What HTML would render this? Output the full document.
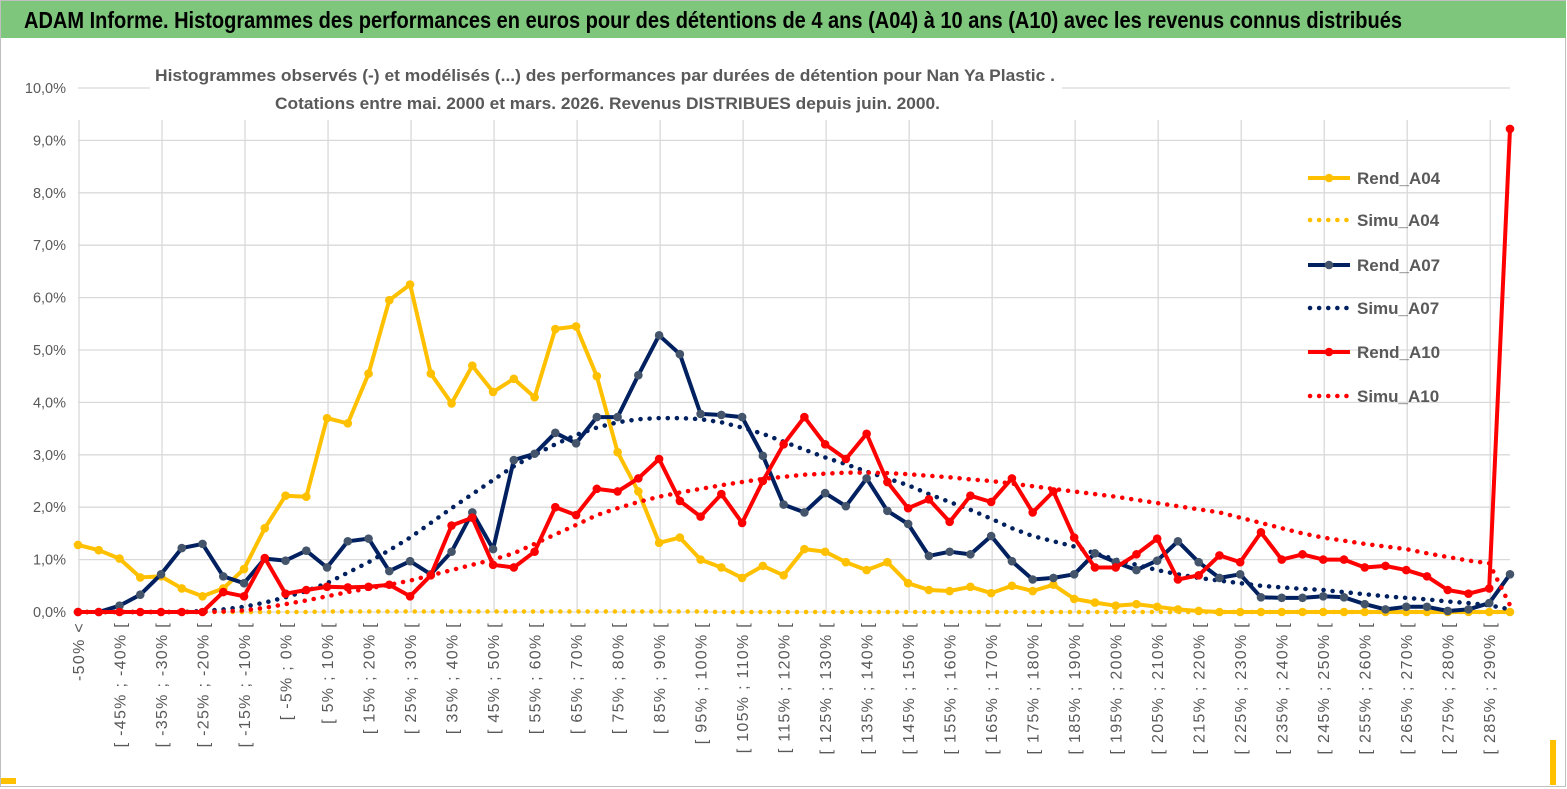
<!DOCTYPE html>
<html><head><meta charset="utf-8"><style>
html,body{margin:0;padding:0;background:#fff;}
svg{display:block;font-family:"Liberation Sans",sans-serif;}
</style></head><body>
<svg id="chart" width="1567" height="789" viewBox="0 0 1567 789" xmlns="http://www.w3.org/2000/svg">
<rect x="0" y="0" width="1567" height="789" fill="#fff"/>
<rect x="0.5" y="0.5" width="1565" height="786" fill="none" stroke="#bfbfbf"/>
<rect x="1" y="1" width="1565" height="37" fill="#7DC67B"/>
<text x="24" y="28" font-size="23" font-weight="bold" fill="#000" textLength="1378" lengthAdjust="spacingAndGlyphs">ADAM Informe. Histogrammes des performances en euros pour des détentions de 4 ans (A04) à 10 ans (A10) avec les revenus connus distribués</text>
<g id="grid"></g>
<g id="yticks"></g>
<g id="xticks"></g>
<rect x="150" y="55" width="912" height="64" fill="#fff"/>
<text x="155" y="81" font-size="17" font-weight="bold" fill="#595959" textLength="900" lengthAdjust="spacingAndGlyphs">Histogrammes observés (-) et modélisés (...) des performances par durées de détention pour Nan Ya Plastic .</text>
<text x="275" y="109" font-size="17" font-weight="bold" fill="#595959" textLength="665" lengthAdjust="spacingAndGlyphs">Cotations entre mai. 2000 et mars. 2026. Revenus DISTRIBUES depuis juin. 2000.</text>
<g id="series"></g>
<g id="legend"></g>
<rect x="1" y="778" width="15" height="6" fill="#FFC000"/>
<rect x="1550" y="740" width="6" height="45" fill="#FFC000"/>
</svg>
<script>
const yTicks=["0,0%","1,0%","2,0%","3,0%","4,0%","5,0%","6,0%","7,0%","8,0%","9,0%","10,0%"];
const yTickValues=[0,1,2,3,4,5,6,7,8,9,10];
const categories=["-50% <"];
for(let k=1;k<70;k++){const lo=-50+5*(k-1);categories.push("[ "+lo+"% ; "+(lo+5)+"% [");}
const rendA04=[1.28,1.18,1.02,0.66,0.68,0.45,0.3,0.45,0.82,1.6,2.22,2.2,3.7,3.6,4.55,5.95,6.25,4.55,3.98,4.7,4.2,4.45,4.1,5.4,5.45,4.5,3.05,2.3,1.32,1.42,1.0,0.85,0.65,0.88,0.7,1.2,1.15,0.95,0.8,0.95,0.55,0.42,0.4,0.48,0.36,0.5,0.4,0.52,0.25,0.18,0.12,0.15,0.1,0.05,0.02,0,0,0,0,0,0,0,0,0,0,0,0,0,0,0];
const simuA04=[0,0,0,0,0,0,0,0,0,0,0,0,0.01,0.01,0.01,0.01,0.01,0.01,0.01,0.01,0.01,0.01,0.01,0.01,0.01,0.01,0.01,0.01,0.01,0.01,0.01,0,0,0,0,0,0,0,0,0,0,0,0,0,0,0,0,0,0,0,0,0,0,0,0,0,0,0,0,0,0,0,0,0,0,0,0,0,0,0];
const rendA07=[0,0,0.12,0.33,0.72,1.22,1.3,0.68,0.55,1.02,0.98,1.17,0.85,1.35,1.4,0.78,0.97,0.72,1.15,1.9,1.2,2.9,3.02,3.42,3.22,3.72,3.72,4.52,5.28,4.92,3.78,3.76,3.72,2.98,2.05,1.9,2.27,2.02,2.55,1.93,1.68,1.07,1.15,1.1,1.45,0.97,0.62,0.65,0.72,1.12,0.95,0.8,0.98,1.35,0.95,0.65,0.72,0.28,0.27,0.27,0.3,0.28,0.15,0.05,0.1,0.1,0.02,0.05,0.17,0.72];
const simuA07=[0,0,0,0,0,0,0.02,0.05,0.1,0.18,0.28,0.4,0.55,0.75,0.95,1.18,1.42,1.7,1.98,2.25,2.52,2.78,3.0,3.2,3.38,3.52,3.62,3.68,3.7,3.7,3.68,3.62,3.52,3.4,3.25,3.1,2.95,2.82,2.68,2.55,2.42,2.25,2.1,1.95,1.78,1.6,1.45,1.35,1.25,1.12,1.0,0.9,0.8,0.72,0.65,0.6,0.55,0.5,0.47,0.44,0.42,0.38,0.34,0.3,0.27,0.24,0.2,0.17,0.13,0.05];
const rendA10=[0,0,0,0,0,0,0,0.38,0.3,1.03,0.35,0.42,0.48,0.47,0.48,0.52,0.3,0.7,1.65,1.8,0.9,0.85,1.15,2.0,1.85,2.35,2.3,2.55,2.92,2.12,1.82,2.25,1.7,2.5,3.2,3.72,3.2,2.92,3.4,2.48,1.98,2.15,1.72,2.22,2.1,2.55,1.9,2.3,1.42,0.85,0.85,1.1,1.4,0.62,0.7,1.08,0.95,1.52,1.0,1.1,1.0,1.0,0.85,0.88,0.8,0.68,0.42,0.35,0.45,9.22];
const simuA10=[0,0,0,0,0,0,0,0.01,0.03,0.08,0.15,0.22,0.3,0.38,0.45,0.52,0.6,0.7,0.8,0.9,1.0,1.12,1.3,1.48,1.66,1.85,1.98,2.1,2.2,2.28,2.35,2.42,2.48,2.54,2.58,2.62,2.64,2.66,2.66,2.65,2.63,2.6,2.57,2.53,2.5,2.45,2.4,2.35,2.3,2.25,2.2,2.14,2.08,2.02,1.96,1.9,1.8,1.7,1.6,1.5,1.42,1.36,1.3,1.25,1.2,1.12,1.05,0.98,0.93,0.13];
const seriesNames=["Rend_A04","Simu_A04","Rend_A07","Simu_A07","Rend_A10","Simu_A10"];

const NS="http://www.w3.org/2000/svg";
const X0=78,X1=1510,Y0=612,Y10=88,N=categories.length;
function xs(i){return X0+i*(X1-X0)/(N-1);}
function ys(v){return Y0-(v/10)*(Y0-Y10);}
function mk(tag,attrs,parent){const e=document.createElementNS(NS,tag);for(const k in attrs)e.setAttribute(k,attrs[k]);parent.appendChild(e);return e;}
const grid=document.getElementById('grid'),yt=document.getElementById('yticks'),xt=document.getElementById('xticks'),ser=document.getElementById('series'),leg=document.getElementById('legend');
yTickValues.forEach((v,i)=>{
  const l=mk('line',{x1:X0,x2:X1,y1:ys(v),y2:ys(v),stroke:'#d9d9d9','stroke-width':1.3},grid);
  
  
  const t=mk('text',{x:66,y:ys(v)+5,'text-anchor':'end','font-size':14.5,fill:'#595959'},yt);
  t.textContent=yTicks[i];
  
  
});
for(let i=0;i<N;i+=4){
  const l=mk('line',{x1:xs(i)+1,x2:xs(i)+1,y1:Y10+32,y2:Y0,stroke:'#d9d9d9','stroke-width':1.3},grid);
  
  
}
for(let i=0;i<N-1;i+=2){
  const x=xs(i)+6,y=622;
  const t=mk('text',{x:x,y:y,'text-anchor':'end','font-size':16,'letter-spacing':1.3,fill:'#595959',transform:'rotate(-90 '+x+' '+y+')'},xt);
  t.textContent=categories[i];
  
  
}
function pts(d){return d.map((v,i)=>xs(i).toFixed(1)+','+ys(v).toFixed(1)).join(' ');}
function dotted(d,color,name){
  const p=mk('polyline',{points:pts(d),fill:'none',stroke:color,'stroke-width':4.5,'stroke-dasharray':'0.1 9','stroke-linecap':'round'},ser);
  
  
}
function solid(d,color,mcolor,name){
  const g=mk('g',{},ser);
  
  
  mk('polyline',{points:pts(d),fill:'none',stroke:color,'stroke-width':4,'stroke-linejoin':'round'},g);
  d.forEach((v,i)=>{const c=mk('circle',{cx:xs(i),cy:ys(v),r:4.3,fill:mcolor},g);
    
    });
}
dotted(simuA04,'#FFC000','simu-a04-line');
solid(rendA04,'#FFC000','#FFC000','rend-a04-line');
dotted(simuA07,'#002060','simu-a07-line');
solid(rendA07,'#002060','#44546A','rend-a07-line');
dotted(simuA10,'#FF0000','simu-a10-line');
solid(rendA10,'#FF0000','#FF0000','rend-a10-line');
const legColors=['#FFC000','#FFC000','#002060','#002060','#FF0000','#FF0000'];
const legMark=['#FFC000',null,'#44546A',null,'#FF0000',null];
const legY=[178,220,265,308,352,396];
seriesNames.forEach((n,k)=>{
  const g=mk('g',{},leg);
  
  
  if(legMark[k]){mk('line',{x1:1308,x2:1350,y1:legY[k],y2:legY[k],stroke:legColors[k],'stroke-width':4},g);
    mk('circle',{cx:1329,cy:legY[k],r:4.3,fill:legMark[k]},g);}
  else mk('line',{x1:1310,x2:1350,y1:legY[k],y2:legY[k],stroke:legColors[k],'stroke-width':4.5,'stroke-dasharray':'0.1 9','stroke-linecap':'round'},g);
  const t=mk('text',{x:1357,y:legY[k]+6,'font-size':17,'font-weight':'bold',fill:'#595959'},g);
  t.textContent=n;
});
</script>
</body></html>
